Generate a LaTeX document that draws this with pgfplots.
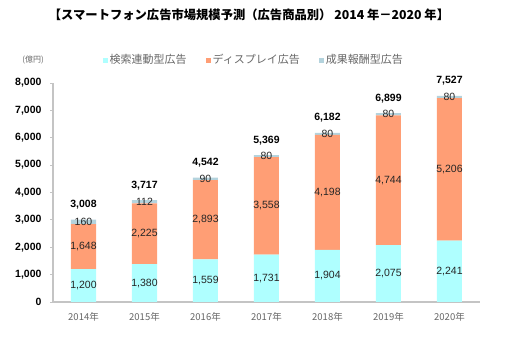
\documentclass[border=0pt]{standalone}
\usepackage{pgfplots}
\pgfplotsset{compat=1.18}
\usepackage{pgfplotstable}
\usepackage{fontspec}
\setmainfont{Liberation Sans}
\newfontfamily\cjk{Noto Sans CJK JP}
\definecolor{cyanbar}{HTML}{AFFFFF}
\definecolor{orangebar}{HTML}{FF9E75}
\definecolor{graybar}{HTML}{B4D3DD}
\definecolor{axisgray}{HTML}{C4C4C4}
\definecolor{labelgray}{HTML}{666666}
\definecolor{datatext}{HTML}{262626}

\pgfplotstableread{
x search display affiliate total
0 1200 1648 160 3008
1 1380 2225 112 3717
2 1559 2893 90 4542
3 1731 3558 80 5369
4 1904 4198 80 6182
5 2075 4744 80 6899
6 2241 5206 80 7527
}\datatable

\pgfplotstableread{
x y label
0 600 1,200
1 690 1,380
2 779.5 1,559
3 865.5 1,731
4 952 1,904
5 1037.5 2,075
6 1120.5 2,241
0 2024 1,648
1 2492.5 2,225
2 3005.5 2,893
3 3510 3,558
4 4003 4,198
5 4447 4,744
6 4844 5,206
0 2928 160
1 3661 112
2 4497 90
3 5329 80
4 6142 80
5 6859 80
6 7487 80
}\segtable

\pgfplotstableread{
x y label
0 3008 3,008
1 3717 3,717
2 4542 4,542
3 5369 5,369
4 6182 6,182
5 6899 6,899
6 7527 7,527
}\tottable

\begin{document}
\begin{tikzpicture}[x=1pt,y=1pt]
\path[use as bounding box] (0,0) rectangle (513,350);
\node[font=\cjk\bfseries\fontsize{12.3}{12.3}\selectfont, text=black] at (249,335) {【スマートフォン広告市場規模予測（広告商品別） 2014 年－2020 年】};
\node[font=\cjk\fontsize{8}{8}\selectfont, text=labelgray] at (33,290) {(億円)};
\begin{axis}[
  at={(53pt,48pt)}, anchor=south west,
  scale only axis, width=427pt, height=219pt,
  ybar stacked, bar width=25pt,
  xmin=-0.5, xmax=6.5, ymin=0, ymax=8000,
  xtick={0,...,6},
  xticklabels={2014年,2015年,2016年,2017年,2018年,2019年,2020年},
  xticklabel style={font=\cjk\fontsize{9.5}{9.5}\selectfont, text=labelgray, yshift=-4pt},
  ytick={0,1000,...,8000},
  yticklabel style={font=\bfseries\fontsize{10.5}{10.5}\selectfont, text=black, xshift=-5pt},
  /pgf/number format/assume math mode=true,
  /pgf/number format/1000 sep={,},
  scaled y ticks=false,
  axis x line*=bottom, axis y line*=left,
  x axis line style={axisgray, line width=1.6pt, -},
  y axis line style={axisgray, line width=1.2pt, -},
  xtick style={draw=none},
  ytick style={axisgray, line width=0.8pt},
  tick align=outside, major tick length=3pt,
  legend style={draw=none, fill=none, font=\cjk\fontsize{11}{11}\selectfont, text=labelgray,
    legend columns=3, at={(0.47,1)}, anchor=center, yshift=23pt,
    /tikz/every even column/.append style={column sep=17pt}},
  legend image code/.code={\fill[#1] (0pt,-2.5pt) rectangle (5pt,2.5pt);},
]
\addplot[fill=cyanbar, draw=none] table[x=x, y=search] {\datatable};
\addplot[fill=orangebar, draw=none] table[x=x, y=display] {\datatable};
\addplot[fill=graybar, draw=none] table[x=x, y=affiliate] {\datatable};
\legend{検索連動型広告,ディスプレイ広告,成果報酬型広告}
\end{axis}
\begin{axis}[
  at={(53pt,48pt)}, anchor=south west,
  scale only axis, width=427pt, height=219pt,
  xmin=-0.5, xmax=6.5, ymin=0, ymax=8000,
  hide axis, clip=false,
]
\addplot[draw=none, mark=none, nodes near coords, point meta=explicit symbolic,
  every node near coord/.style={anchor=center, inner sep=0pt, text=datatext, font=\fontsize{10.5}{10.5}\selectfont}]
  table[x=x, y=y, meta=label] {\segtable};
\addplot[draw=none, mark=none, nodes near coords, point meta=explicit symbolic,
  every node near coord/.style={anchor=base, inner sep=0pt, yshift=12pt, text=black, font=\bfseries\fontsize{10.5}{10.5}\selectfont}]
  table[x=x, y=y, meta=label] {\tottable};
\end{axis}
\end{tikzpicture}
\end{document}
